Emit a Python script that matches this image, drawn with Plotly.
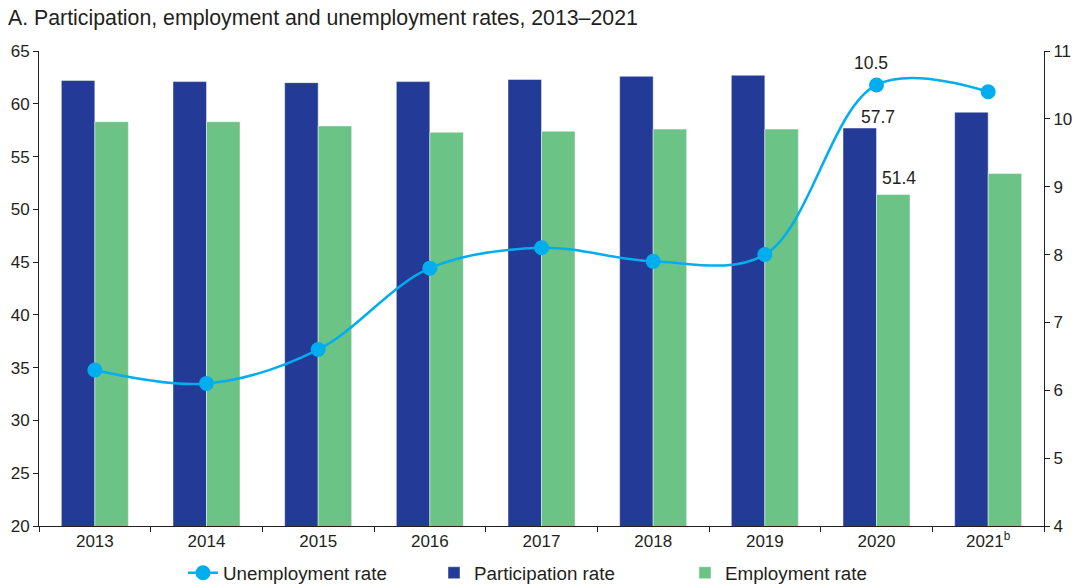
import plotly.graph_objects as go

years = ["2013", "2014", "2015", "2016", "2017", "2018", "2019", "2020", "2021<sup>b</sup>"]
participation = [62.2, 62.1, 62.0, 62.1, 62.3, 62.6, 62.7, 57.7, 59.2]
employment = [58.3, 58.3, 57.9, 57.3, 57.4, 57.6, 57.6, 51.4, 53.4]
unemployment = [6.3, 6.1, 6.6, 7.8, 8.1, 7.9, 8.0, 10.5, 10.4]

NAVY = "#233A96"
GREEN = "#6CC386"
CYAN = "#00AEEF"
TEXT = "#231F20"
FONT = "Liberation Sans, Arial, sans-serif"

W, H = 1076, 586

fig = go.Figure()
fig.add_trace(go.Bar(
    x=years, y=participation, name="Participation rate",
    marker=dict(color=NAVY, line=dict(color="rgba(255,255,255,0.45)", width=1)),
    legendrank=2,
))
fig.add_trace(go.Bar(
    x=years, y=employment, name="Employment rate",
    marker=dict(color=GREEN, line=dict(color="rgba(255,255,255,0.45)", width=1)),
    legendrank=3,
))
fig.add_trace(go.Scatter(
    x=years, y=unemployment, name="Unemployment rate", yaxis="y2",
    mode="lines+markers",
    line=dict(color=CYAN, width=2.5, shape="spline", smoothing=1.0),
    marker=dict(color=CYAN, size=15),
    legendrank=1,
))

# value labels for 2020 (category index 7)
i20 = years.index("2020")
lbl_font = dict(size=17.5, color=TEXT, family=FONT)
fig.add_annotation(x=i20, y=unemployment[i20], yref="y2", text=f"{unemployment[i20]}",
                   showarrow=False, yshift=22, xshift=-6, font=lbl_font)
fig.add_annotation(x=i20, y=participation[i20], yref="y", text=f"{participation[i20]}",
                   showarrow=False, yshift=11, xshift=1, font=lbl_font)
fig.add_annotation(x=i20, y=employment[i20], yref="y", text=f"{employment[i20]}",
                   showarrow=False, yshift=17, xshift=22, font=lbl_font)

axis_common = dict(
    showgrid=False, zeroline=False, showline=True, linecolor="#231F20", linewidth=1,
    ticks="outside", ticklen=5, tickcolor="#231F20",
    tickfont=dict(size=17, color=TEXT, family=FONT),
)

fig.update_layout(
    width=W, height=H,
    margin=dict(l=39, r=32, t=51, b=59.5, autoexpand=False),
    paper_bgcolor="white", plot_bgcolor="white",
    barmode="group", bargap=0.4, bargroupgap=0,
    font=dict(family=FONT, color=TEXT),
    title=dict(
        text="A. Participation, employment and unemployment rates, 2013–2021",
        x=8 / W, xanchor="left", xref="container",
        y=1 - 18 / H, yanchor="middle", yref="container",
        font=dict(size=21.3, color=TEXT, family=FONT),
    ),
    xaxis=dict(
        type="category", tickson="boundaries", range=[-0.5, len(years) - 0.5],
        **axis_common,
    ),
    yaxis=dict(range=[20, 65], dtick=5, **axis_common),
    yaxis2=dict(range=[4, 11], dtick=1, overlaying="y", side="right", **axis_common),
    legend=dict(
        orientation="h", xref="container", x=183 / W, xanchor="left",
        yref="container", y=1 - 573 / H, yanchor="middle",
        font=dict(size=18.8, color=TEXT, family=FONT),
        traceorder="normal", itemwidth=30, entrywidth=206,
    ),
    showlegend=True,
)

fig.write_html("out.html")
